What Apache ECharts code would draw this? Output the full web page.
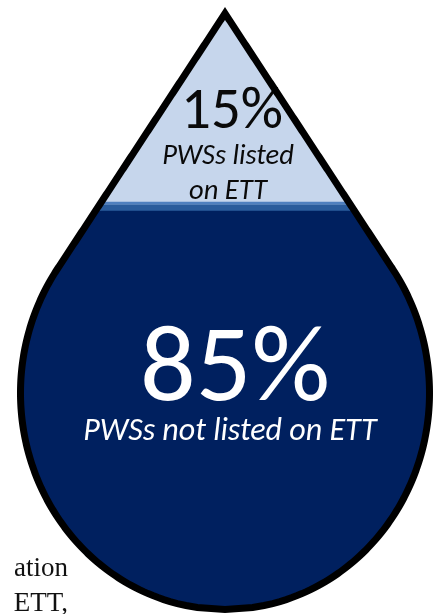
<!DOCTYPE html>
<html>
<head>
<meta charset="utf-8">
<script src="https://cdn.jsdelivr.net/npm/echarts@6/dist/echarts.min.js"></script>
<style>
  html, body { margin: 0; padding: 0; background: #ffffff; }
  #chart { width: 441px; height: 614px; }
</style>
</head>
<body>
<div id="chart"></div>
<script>
// Share of public water systems (PWSs) listed on ETT
const categories = ['PWSs listed on ETT', 'PWSs not listed on ETT'];
const shares = [15, 85];
const captionLines = [['PWSs listed', 'on ETT'], ['PWSs not listed on ETT']];
// Surrounding document text peeking in at the lower left
const pageTextLines = ['ation', 'ETT,'];

// Droplet geometry in axis units: ellipse body (centre at 0) with a pointed top
const RX = 1;
const RY = 1.0587;
const APEX = 1.8557;
const SLOPE = RX / Math.sqrt(APEX * APEX - RY * RY);          // dx/dy of the straight sides
const aT = SLOPE * SLOPE / (RX * RX), bT = 1 / (RY * RY);
const Y_TANGENT = APEX - bT * APEX / (aT + bT);               // where sides meet the body

function halfWidth(y) {
  if (y >= Y_TANGENT) return Math.max(0, SLOPE * (APEX - y));
  const t = y / RY;
  return RX * Math.sqrt(Math.max(0, 1 - t * t));
}

// Cumulative area from the tip downward, used to place each level so that
// the filled area matches its share
const N = 4000;
const ys = [], cum = [0];
for (let j = 0; j <= N; j++) ys.push(APEX - (APEX + RY) * j / N);
for (let j = 1; j <= N; j++) {
  const dy = ys[j - 1] - ys[j];
  cum.push(cum[j - 1] + (halfWidth(ys[j - 1]) + halfWidth(ys[j])) * dy);
}
const totalArea = cum[N];
function levelForFraction(f) {
  const target = f * totalArea;
  if (target <= 0) return APEX;
  if (target >= totalArea) return -RY;
  let lo = 0, hi = N;
  while (hi - lo > 1) {
    const m = (lo + hi) >> 1;
    if (cum[m] < target) lo = m; else hi = m;
  }
  const r = (target - cum[lo]) / (cum[hi] - cum[lo]);
  return ys[lo] + (ys[hi] - ys[lo]) * r;
}

const totalShare = shares.reduce((a, b) => a + b, 0);
const bounds = [0];
shares.forEach((v, i) => bounds.push(bounds[i] + v / totalShare));

const fills = ['#c6d6ec', '#00205f'];
const textColors = ['#0a0a0a', '#ffffff'];
const FONT = 'Carlito, "Open Sans", "Noto Sans", sans-serif';
// label placement relative to each region's vertical middle (px)
const valueStyle = [{ dy: 4, size: 59, dx: 7 }, { dy: -35, size: 110, dx: 10 }];
const captionStyle = [{ dy: 48, size: 28.5, gap: 35, dx: 3 }, { dy: 25, size: 32, gap: 34, dx: 5 }];

function outlinePoints(api, yA, yB, steps) {
  const pts = [];
  for (let t = 0; t <= steps; t++) {
    const y = yA + (yB - yA) * t / steps;
    pts.push(api.coord([-halfWidth(y), y]));
  }
  for (let t = steps; t >= 0; t--) {
    const y = yA + (yB - yA) * t / steps;
    pts.push(api.coord([halfWidth(y), y]));
  }
  return pts;
}

function renderRegion(params, api) {
  const i = params.dataIndex;
  const yA = levelForFraction(bounds[i]);
  const yB = levelForFraction(bounds[i + 1]);
  const children = [{
    type: 'polygon',
    shape: { points: outlinePoints(api, yA, yB, 200) },
    style: { fill: fills[i] }
  }];
  const cx = api.coord([0, 0])[0];
  const pxTop = api.coord([0, yA])[1];
  const pxBot = api.coord([0, yB])[1];
  const scale = api.size([1, 0])[0];
  if (i > 0) {
    // water surface
    const hw = halfWidth(yA) * scale;
    children.push({ type: 'rect', shape: { x: cx - hw, y: pxTop - 3, width: 2 * hw, height: 3 }, style: { fill: '#4f80bf' } });
    children.push({ type: 'rect', shape: { x: cx - hw, y: pxTop, width: 2 * hw, height: 6 }, style: { fill: '#2a5c9c' } });
  }
  const mid = (pxTop + pxBot) / 2;
  const vs = valueStyle[i], cs = captionStyle[i];
  children.push({
    type: 'text',
    style: {
      text: api.value(1) + '%', x: cx + vs.dx, y: mid + vs.dy,
      fill: textColors[i], fontSize: vs.size, fontFamily: FONT, fontWeight: 300,
      align: 'center', verticalAlign: 'middle'
    }
  });
  captionLines[i].forEach((line, k) => {
    children.push({
      type: 'text',
      style: {
        text: line, x: cx + cs.dx, y: mid + cs.dy + k * cs.gap,
        fill: textColors[i], fontSize: cs.size, fontFamily: FONT, fontStyle: 'italic',
        align: 'center', verticalAlign: 'middle'
      }
    });
  });
  return { type: 'group', children: children };
}

function renderOutline(params, api) {
  return {
    type: 'polygon',
    shape: { points: outlinePoints(api, APEX, -RY, 300) },
    style: { fill: 'none', stroke: '#000000', lineWidth: 7, lineJoin: 'miter', miterLimit: 10 }
  };
}

const chart = echarts.init(document.getElementById('chart'), null, { renderer: 'canvas' });
chart.setOption({
  backgroundColor: '#ffffff',
  animation: false,
  grid: { left: 20.5, right: 11.5, top: 13.5, bottom: 4.5 },
  xAxis: { type: 'value', min: -RX, max: RX, show: false },
  yAxis: { type: 'value', min: -RY, max: APEX, show: false },
  graphic: pageTextLines.map((t, k) => ({
    type: 'text', x: 68, y: 582 + k * 35, z: -1,
    style: {
      text: t, fill: '#111111', fontSize: 27, align: 'right', verticalAlign: 'bottom',
      fontFamily: '"Liberation Serif", "DejaVu Serif", serif'
    }
  })),
  series: [
    {
      type: 'custom',
      name: 'share',
      coordinateSystem: 'cartesian2d',
      clip: false,
      renderItem: renderRegion,
      encode: { x: 0, y: 1 },
      data: categories.map((c, i) => ({ name: c, value: [0, shares[i]] }))
    },
    {
      type: 'custom',
      name: 'outline',
      coordinateSystem: 'cartesian2d',
      clip: false,
      silent: true,
      renderItem: renderOutline,
      data: [[0, 0]]
    }
  ]
});
</script>
</body>
</html>
